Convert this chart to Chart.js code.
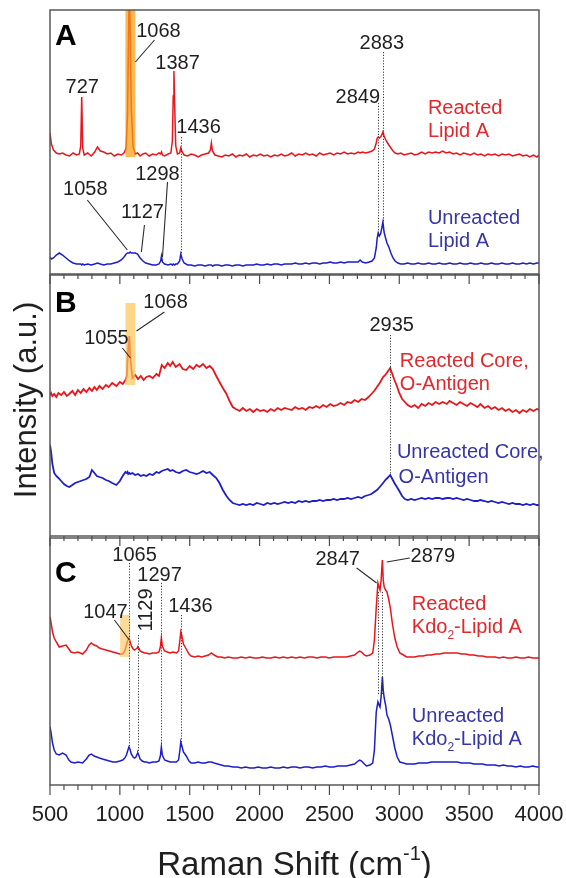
<!DOCTYPE html>
<html>
<head>
<meta charset="utf-8">
<script src="https://cdn.jsdelivr.net/npm/chart.js@4/dist/chart.umd.min.js"></script>
<style>
  html, body { margin: 0; padding: 0; background: #fff; }
  #wrap { position: relative; width: 566px; height: 878px; }
  #wrap canvas { position: absolute; left: 0; top: 0; }
</style>
</head>
<body>
<div id="wrap">
  <canvas id="panelA" width="566" height="878"></canvas>
  <canvas id="panelB" width="566" height="878"></canvas>
  <canvas id="panelC" width="566" height="878"></canvas>
</div>
<script>
// ---------- Panel A: Lipid A ----------
const shiftA = [
  500, 510, 525, 545, 567, 590, 615, 640, 665, 690,
  710, 720, 727, 734, 745, 770, 795, 820, 840, 860,
  885, 910, 935, 960, 985, 1010, 1030, 1045, 1055, 1062,
  1068, 1074, 1082, 1095, 1110, 1127, 1145, 1165, 1185, 1210,
  1235, 1260, 1280, 1292, 1298, 1305, 1320, 1345, 1365, 1376,
  1382, 1387, 1393, 1400, 1412, 1428, 1436, 1446, 1460, 1485,
  1510, 1535, 1560, 1585, 1610, 1635, 1648, 1655, 1663, 1680,
  1705, 1730, 1755, 1780, 1805, 1830, 1855, 1880, 1905, 1930,
  1955, 1980, 2005, 2030, 2055, 2080, 2105, 2130, 2155, 2180,
  2205, 2230, 2255, 2280, 2305, 2330, 2355, 2380, 2405, 2430,
  2455, 2480, 2505, 2530, 2555, 2580, 2605, 2630, 2655, 2680,
  2705, 2720, 2735, 2760, 2785, 2805, 2822, 2835, 2842, 2849,
  2857, 2866, 2875, 2883, 2891, 2900, 2912, 2925, 2940, 2955,
  2970, 2990, 3010, 3035, 3060, 3085, 3110, 3135, 3160, 3185,
  3210, 3235, 3260, 3285, 3310, 3335, 3360, 3385, 3410, 3435,
  3460, 3485, 3510, 3535, 3560, 3585, 3610, 3635, 3660, 3685,
  3710, 3735, 3760, 3785, 3810, 3835, 3860, 3885, 3910, 3935,
  3960, 3985, 4000
];
const reactedA = [
  141, 130, 124, 121, 120, 121, 119, 118, 121, 119,
  120, 128, 177, 126, 119, 121, 118, 122, 127, 123,
  122, 120, 121, 118, 120, 119, 121, 126, 160, 235,
  300, 240, 165, 127, 120, 121, 118, 120, 121, 118,
  120, 119, 121, 120, 122, 119, 118, 120, 121, 133,
  178, 203, 165, 128, 120, 121, 126, 122, 119, 118,
  120, 119, 117, 119, 120, 121, 124, 131, 123, 119,
  118, 117, 119, 118, 120, 117, 119, 118, 120, 117,
  119, 118, 120, 118, 119, 117, 119, 118, 120, 118,
  119, 121, 118, 120, 119, 121, 119, 120, 118, 121,
  119, 120, 121, 119, 121, 120, 122, 120, 121, 120,
  122, 121, 122, 121, 122, 123, 125, 131, 136, 137,
  136, 137, 139, 142, 138, 135, 132, 129, 126, 123,
  121, 120, 121, 119, 120, 121, 119, 120, 122, 120,
  122, 121, 122, 121, 123, 121, 122, 120, 121, 119,
  121, 120, 119, 121, 119, 120, 118, 120, 119, 120,
  118, 120, 119, 120, 118, 119, 120, 118, 119, 117,
  119, 117, 119
];
const unreactedA = [
  17, 15, 16, 19, 21, 19, 16, 13, 11, 10,
  10, 10, 9, 10, 9, 10, 9, 10, 11, 10,
  9, 10, 10, 11, 12, 14, 17, 20, 21, 21,
  21, 22, 21, 21, 21, 20, 16, 13, 11, 10,
  9, 9, 10, 13, 18, 12, 10, 9, 10, 9,
  10, 10, 9, 10, 10, 13, 20, 15, 11, 9,
  9, 8, 9, 9, 8, 9, 9, 9, 8, 9,
  9, 8, 9, 9, 8, 9, 9, 8, 9, 9,
  9, 10, 9, 9, 10, 9, 10, 10, 9, 10,
  10, 10, 11, 10, 10, 11, 10, 11, 11, 10,
  11, 11, 12, 11, 11, 12, 11, 12, 12, 12,
  12, 14, 12, 11, 12, 13, 16, 26, 36, 41,
  38, 40, 46, 52, 42, 37, 31, 27, 21, 16,
  13, 11, 10, 10, 11, 10, 10, 11, 10, 10,
  11, 10, 10, 11, 10, 10, 11, 10, 10, 11,
  10, 10, 11, 10, 10, 11, 10, 10, 11, 10,
  10, 11, 10, 10, 11, 10, 10, 11, 10, 11,
  10, 11, 11
];

// ---------- Panel B: core, O-antigen ----------
const shiftB = [
  500, 508, 517, 530, 545, 560, 580, 600, 620, 638,
  660, 680, 700, 720, 740, 760, 782, 800, 818, 835,
  854, 876, 900, 920, 945, 975, 1000, 1020, 1040, 1050,
  1055, 1060, 1068, 1075, 1090, 1110, 1130, 1150, 1170, 1190,
  1212, 1235, 1262, 1280, 1300, 1320, 1343, 1360, 1378, 1400,
  1427, 1450, 1475, 1500, 1525, 1548, 1570, 1595, 1620, 1643,
  1665, 1690, 1713, 1737, 1763, 1785, 1808, 1830, 1857, 1880,
  1905, 1930, 1955, 1980, 2005, 2030, 2055, 2080, 2105, 2130,
  2155, 2180, 2205, 2230, 2255, 2280, 2305, 2330, 2355, 2380,
  2405, 2430, 2455, 2480, 2505, 2530, 2555, 2580, 2605, 2630,
  2655, 2680, 2705, 2730, 2755, 2780, 2800, 2820, 2840, 2860,
  2884, 2900, 2915, 2935, 2950, 2965, 2983, 3000, 3020, 3040,
  3060, 3085, 3110, 3135, 3160, 3185, 3210, 3235, 3260, 3285,
  3310, 3340, 3360, 3385, 3410, 3435, 3460, 3485, 3510, 3535,
  3560, 3580, 3610, 3635, 3660, 3685, 3710, 3735, 3760, 3785,
  3810, 3835, 3860, 3885, 3910, 3935, 3960, 3985, 4000
];
const reactedB = [
  141, 143, 140, 142, 139, 143, 141, 144, 140, 142,
  145, 141, 146, 143, 147, 144, 148, 145, 149, 146,
  150, 147, 151, 149, 153, 150, 154, 152, 156, 160,
  176, 188, 200, 178, 158, 161, 157, 160, 156, 159,
  160, 158, 162, 160, 171, 168, 173, 170, 174, 169,
  172, 167, 166, 170, 167, 171, 169, 172, 168, 170,
  167, 160, 154, 148, 142, 135, 129, 127, 125, 128,
  125, 127, 124, 127, 125, 126, 124, 127, 125, 128,
  126, 128, 127, 126, 129, 127, 128, 126, 129, 128,
  130, 128, 131, 129, 132, 130, 131, 133, 131, 134,
  133, 136, 134, 137, 136, 139, 142, 145, 149, 153,
  159, 161, 164, 168, 162, 156, 150, 143, 137, 134,
  131, 129, 131, 128, 132, 130, 133, 131, 134, 132,
  134, 132, 135, 133, 131, 134, 132, 130, 133, 131,
  129, 132, 128, 130, 127, 129, 126, 128, 125, 127,
  124, 126, 123, 126, 124, 127, 125, 127, 126
];
const unreactedB = [
  91, 84, 72, 63, 60, 58, 55, 52, 50, 49,
  51, 53, 54, 55, 56, 57, 59, 66, 63, 60,
  59, 58, 56, 55, 53, 51, 55, 60, 64, 63,
  64, 62, 63, 62, 63, 61, 62, 60, 61, 60,
  62, 61, 64, 63, 65, 66, 67, 65, 66, 64,
  63, 65, 66, 64, 63, 62, 63, 65, 63, 64,
  61, 58, 53, 46, 40, 36, 33, 32, 31, 32,
  31, 32, 31, 33, 32, 31, 33, 32, 33, 32,
  33, 34, 33, 34, 33, 35, 34, 35, 34, 35,
  35, 36, 35, 36, 36, 37, 36, 37, 37, 38,
  37, 38, 39, 38, 40, 41, 42, 44, 46, 49,
  53, 56, 58, 61, 57, 53, 49, 45, 40, 37,
  36, 37, 36, 37, 38, 37, 38, 37, 38, 38,
  37, 38, 38, 37, 38, 37, 36, 37, 36, 35,
  35, 36, 35, 34, 35, 34, 33, 34, 33, 32,
  33, 32, 32, 31, 32, 31, 32, 31, 31
];

// ---------- Panel C: Kdo2-Lipid A ----------
const shiftC = [
  500, 508, 518, 530, 545, 566, 590, 615, 635, 650,
  675, 700, 733, 760, 780, 796, 815, 835, 853, 875,
  900, 925, 950, 975, 1000, 1020, 1035, 1047, 1058, 1065,
  1072, 1082, 1095, 1105, 1115, 1124, 1129, 1135, 1145, 1160,
  1175, 1190, 1210, 1235, 1262, 1280, 1290, 1297, 1304, 1320,
  1340, 1360, 1380, 1405, 1420, 1430, 1436, 1442, 1455, 1475,
  1495, 1510, 1535, 1560, 1585, 1610, 1635, 1655, 1675, 1700,
  1725, 1750, 1775, 1810, 1840, 1870, 1900, 1930, 1960, 1990,
  2020, 2050, 2080, 2110, 2143, 2170, 2200, 2230, 2260, 2290,
  2320, 2350, 2380, 2410, 2440, 2470, 2500, 2530, 2560, 2590,
  2622, 2650, 2680, 2705, 2717, 2730, 2750, 2765, 2790, 2810,
  2822, 2835, 2847, 2855, 2862, 2870, 2879, 2885, 2892, 2902,
  2912, 2924, 2936, 2950, 2968, 2985, 3004, 3030, 3052, 3080,
  3110, 3140, 3170, 3200, 3230, 3260, 3290, 3320, 3350, 3385,
  3415, 3445, 3475, 3505, 3535, 3565, 3595, 3625, 3655, 3685,
  3715, 3745, 3775, 3805, 3835, 3865, 3895, 3925, 3955, 3985,
  4000
];
const reactedC = [
  168, 162, 153, 147, 143, 138, 139, 140, 136, 133,
  132, 133, 131, 135, 140, 142, 140, 139, 137, 136,
  135, 134, 133, 132, 131, 131, 134, 140, 145, 147,
  144, 139, 136, 135, 136, 137, 138, 137, 134, 133,
  132, 132, 131, 132, 132, 133, 138, 147, 139, 134,
  133, 132, 133, 132, 134, 145, 153, 150, 141, 136,
  131, 129, 128, 129, 128, 129, 130, 132, 130, 128,
  128, 127, 128, 127, 127, 128, 127, 128, 127, 127,
  128, 127, 127, 128, 127, 128, 127, 128, 127, 128,
  127, 128, 128, 127, 128, 128, 127, 128, 128, 128,
  128, 129, 130, 133, 134, 133, 130, 129, 130, 132,
  145, 177, 202, 198, 195, 205, 225, 205, 198, 195,
  193, 186, 177, 162, 147, 138, 132, 130, 128, 128,
  128, 129, 129, 130, 130, 131, 131, 132, 132, 132,
  132, 131, 131, 130, 130, 129, 129, 128, 128, 128,
  127, 128, 127, 127, 128, 127, 127, 128, 127, 127,
  127
];
const unreactedC = [
  58, 52, 42, 35, 31, 30, 32, 30, 25, 23,
  22, 23, 22, 26, 30, 31, 29, 28, 27, 26,
  25, 24, 23, 23, 24, 25, 27, 30, 35, 38,
  36, 31, 28, 27, 28, 31, 32, 30, 26, 24,
  23, 23, 22, 23, 23, 24, 29, 38, 30, 25,
  24, 23, 23, 23, 25, 35, 43, 40, 33, 29,
  24, 22, 22, 23, 22, 22, 23, 23, 22, 21,
  20, 19, 19, 18, 18, 17, 18, 17, 17, 18,
  17, 17, 18, 17, 17, 18, 17, 18, 18, 17,
  18, 18, 17, 18, 18, 19, 18, 18, 19, 19,
  19, 20, 21, 24, 25, 24, 21, 19, 20, 22,
  35, 73, 83, 80, 78, 88, 108, 95, 87, 80,
  70, 66, 60, 50, 37, 28, 23, 22, 21, 21,
  21, 22, 22, 22, 23, 23, 23, 23, 23, 23,
  23, 22, 22, 22, 21, 21, 21, 20, 20, 20,
  19, 20, 19, 19, 18, 19, 18, 18, 19, 18,
  18
];

// ---------- Styling ----------
const FONT = "'Liberation Sans', Arial, Helvetica, sans-serif";
const RED = '#e8161c';
const BLUE = '#1d1dc9';
const RED_TEXT = '#e2282c';
const BLUE_TEXT = '#3636a8';
const INK = '#1f1f1f';
const FRAME = '#4d4d4d';

function series(xs, ys) {
  return xs.map((x, i) => ({ x: x, y: ys[i] }));
}

// Text with sub/superscript glyphs drawn as smaller raised/lowered runs
function richText(ctx, str, x, y, size, align, color) {
  const runs = [];
  for (const ch of str) {
    let kind = 'n', t = ch;
    if (ch === '₂') { kind = 'sub'; t = '2'; }
    else if (ch === '⁻') { kind = 'sup'; t = '-'; }
    else if (ch === '¹') { kind = 'sup'; t = '1'; }
    const last = runs[runs.length - 1];
    if (last && last.kind === kind) last.text += t;
    else runs.push({ kind: kind, text: t });
  }
  let total = 0;
  for (const r of runs) {
    const s = r.kind === 'n' ? size : Math.round(size * 0.62);
    ctx.font = s + 'px ' + FONT;
    r.size = s;
    r.w = ctx.measureText(r.text).width;
    r.dy = r.kind === 'sub' ? size * 0.28 : (r.kind === 'sup' ? -size * 0.45 : 0);
    total += r.w;
  }
  let cx = align === 'center' ? x - total / 2 : x;
  ctx.fillStyle = color;
  ctx.textAlign = 'left';
  ctx.textBaseline = 'alphabetic';
  for (const r of runs) {
    ctx.font = r.size + 'px ' + FONT;
    ctx.fillText(r.text, cx, y + r.dy);
    cx += r.w;
  }
}

// Frame, ticks, highlight bands and peak annotations of one panel
const panelDecor = {
  id: 'panelDecor',
  afterDatasetsDraw(chart, args, o) {
    const { ctx, chartArea: a, scales: { x, y } } = chart;
    ctx.save();
    ctx.beginPath();
    ctx.rect(a.left, a.top, a.right - a.left, a.bottom - a.top);
    ctx.clip();
    for (const b of o.bands) {
      const x0 = x.getPixelForValue(b.from), x1 = x.getPixelForValue(b.to);
      const y0 = y.getPixelForValue(b.top), y1 = y.getPixelForValue(b.bottom);
      ctx.fillStyle = b.color;
      ctx.fillRect(x0, y0, x1 - x0, y1 - y0);
    }
    ctx.restore();
  },
  afterDraw(chart, args, o) {
    const { ctx, chartArea: a, scales: { x, y } } = chart;
    ctx.save();

    // panel frame
    ctx.strokeStyle = FRAME;
    ctx.lineWidth = 1.4;
    ctx.strokeRect(a.left, a.top, a.right - a.left, a.bottom - a.top);

    // major / minor tick marks below the bottom edge
    ctx.lineWidth = 1.2;
    ctx.beginPath();
    for (const t of x.ticks) {
      const px = x.getPixelForValue(t.value);
      const len = t.value % 500 === 0 ? 10 : 5;
      ctx.moveTo(px, a.bottom);
      ctx.lineTo(px, a.bottom + len);
    }
    ctx.stroke();

    // dotted peak markers
    ctx.strokeStyle = '#3a3a3a';
    ctx.lineWidth = 1;
    ctx.setLineDash([1.2, 1.6]);
    ctx.beginPath();
    for (const d of o.dotted) {
      const px = Math.round(x.getPixelForValue(d.at)) + 0.5;
      ctx.moveTo(px, y.getPixelForValue(d.from));
      ctx.lineTo(px, y.getPixelForValue(d.to));
    }
    ctx.stroke();
    ctx.setLineDash([]);

    // leader lines
    ctx.strokeStyle = '#2b2b2b';
    ctx.lineWidth = 1.1;
    ctx.beginPath();
    for (const l of o.leaders) {
      ctx.moveTo(x.getPixelForValue(l.x1), y.getPixelForValue(l.y1));
      ctx.lineTo(x.getPixelForValue(l.x2), y.getPixelForValue(l.y2));
    }
    ctx.stroke();

    // peak labels
    ctx.fillStyle = INK;
    ctx.font = '20px ' + FONT;
    ctx.textAlign = 'center';
    ctx.textBaseline = 'middle';
    for (const l of o.labels) {
      const px = x.getPixelForValue(l.x), py = y.getPixelForValue(l.y);
      if (l.rotate) {
        ctx.save();
        ctx.translate(px, py);
        ctx.rotate(-Math.PI / 2);
        ctx.fillText(l.text, 0, 0);
        ctx.restore();
      } else {
        ctx.fillText(l.text, px, py);
      }
    }

    // sample names
    for (const g of o.names) {
      richText(ctx, g.text, x.getPixelForValue(g.x), y.getPixelForValue(g.y), 20, 'left',
               g.color === 'red' ? RED_TEXT : BLUE_TEXT);
    }

    // panel letter
    ctx.fillStyle = '#000';
    ctx.font = 'bold 30px ' + FONT;
    ctx.textAlign = 'left';
    ctx.textBaseline = 'alphabetic';
    ctx.fillText(o.letter, a.left + 5, a.top + o.letterDrop);

    // shared axis titles
    if (o.yTitle) {
      ctx.save();
      ctx.translate(36, 400);
      ctx.rotate(-Math.PI / 2);
      ctx.fillStyle = INK;
      ctx.font = '31px ' + FONT;
      ctx.textAlign = 'center';
      ctx.textBaseline = 'alphabetic';
      ctx.fillText(o.yTitle, 0, 0);
      ctx.restore();
    }
    if (o.xTitle) {
      richText(ctx, o.xTitle, (a.left + a.right) / 2, 875, 33, 'center', INK);
    }
    ctx.restore();
  }
};

function makePanel(id, xs, red, blue, yMax, pad, axisHeight, showLabels, lineWidth, decor) {
  return new Chart(document.getElementById(id), {
    type: 'line',
    data: {
      datasets: [
        { label: 'Reacted', data: series(xs, red), borderColor: RED, borderWidth: lineWidth,
          pointRadius: 0, tension: 0, fill: false },
        { label: 'Unreacted', data: series(xs, blue), borderColor: BLUE, borderWidth: lineWidth,
          pointRadius: 0, tension: 0, fill: false }
      ]
    },
    options: {
      responsive: false,
      animation: false,
      devicePixelRatio: 1,
      events: [],
      layout: { padding: pad },
      plugins: {
        legend: { display: false },
        tooltip: { enabled: false },
        panelDecor: decor
      },
      scales: {
        x: {
          type: 'linear', min: 500, max: 4000,
          border: { display: false },
          grid: { display: true, drawOnChartArea: false, tickLength: 10, tickColor: 'rgba(0,0,0,0)' },
          ticks: {
            display: showLabels, stepSize: 100, autoSkip: false, maxRotation: 0, minRotation: 0,
            padding: 7, color: INK, font: { family: FONT, size: 22 },
            callback: v => (v % 500 === 0 ? String(v) : '')
          },
          // same plot width in every panel: no extra room reserved for edge labels
          afterFit: s => { s.height = axisHeight; s.paddingLeft = 0; s.paddingRight = 0; }
        },
        y: { display: false, min: 0, max: yMax }
      }
    },
    plugins: [panelDecor]
  });
}

makePanel('panelA', shiftA, reactedA, unreactedA, 264,
  { top: 10, left: 50, right: 27, bottom: 594 }, 10, false, 1.5, {
    letter: 'A', letterDrop: 35,
    bands: [{ from: 1040, to: 1111, bottom: 117, top: 264, color: 'rgba(247,158,18,0.72)' }],
    dotted: [
      { at: 1436, from: 137, to: 21 },
      { at: 2883, from: 222, to: 52 },
      { at: 2849, from: 171, to: 41 }
    ],
    leaders: [
      { x1: 1248, y1: 234, x2: 1111, y2: 212 },
      { x1: 767, y1: 74, x2: 1054, y2: 24 },
      { x1: 1176, y1: 49, x2: 1154, y2: 22 },
      { x1: 1341, y1: 92, x2: 1305, y2: 17 }
    ],
    labels: [
      { text: '727', x: 731, y: 187 },
      { text: '1068', x: 1276, y: 243 },
      { text: '1387', x: 1413, y: 211 },
      { text: '1436', x: 1563, y: 147 },
      { text: '1058', x: 753, y: 85 },
      { text: '1127', x: 1162, y: 62 },
      { text: '1298', x: 1269, y: 100 },
      { text: '2883', x: 2875, y: 231 },
      { text: '2849', x: 2703, y: 177 }
    ],
    names: [
      { text: 'Reacted', x: 3205, y: 160, color: 'red' },
      { text: 'Lipid A', x: 3205, y: 137, color: 'red' },
      { text: 'Unreacted', x: 3205, y: 50, color: 'blue' },
      { text: 'Lipid A', x: 3205, y: 27, color: 'blue' }
    ]
  });

makePanel('panelB', shiftB, reactedB, unreactedB, 261,
  { top: 275, left: 50, right: 27, bottom: 332 }, 10, false, 1.8, {
    letter: 'B', letterDrop: 37,
    yTitle: 'Intensity (a.u.)',
    bands: [{ from: 1040, to: 1111, bottom: 151, top: 233, color: 'rgba(250,198,88,0.7)' }],
    dotted: [{ at: 2935, from: 201, to: 61 }],
    leaders: [
      { x1: 1018, y1: 188, x2: 1076, y2: 178 },
      { x1: 1319, y1: 224, x2: 1119, y2: 205 }
    ],
    labels: [
      { text: '1055', x: 904, y: 198 },
      { text: '1068', x: 1327, y: 234 },
      { text: '2935', x: 2946, y: 211 }
    ],
    names: [
      { text: 'Reacted Core,', x: 3004, y: 169, color: 'red' },
      { text: 'O-Antigen', x: 3004, y: 146, color: 'red' },
      { text: 'Unreacted Core,', x: 2983, y: 78, color: 'blue' },
      { text: 'O-Antigen', x: 2995, y: 53, color: 'blue' }
    ]
  });

makePanel('panelC', shiftC, reactedC, unreactedC, 247,
  { top: 538, left: 50, right: 27, bottom: 0 }, 93, true, 1.5, {
    letter: 'C', letterDrop: 44,
    xTitle: 'Raman Shift (cm⁻¹)',
    bands: [{ from: 1002, to: 1073, bottom: 128, top: 170, color: 'rgba(250,198,100,0.65)' }],
    dotted: [
      { at: 1065, from: 222, to: 38 },
      { at: 1297, from: 202, to: 38 },
      { at: 1129, from: 150, to: 33 },
      { at: 1436, from: 170, to: 43 },
      { at: 2847, from: 193, to: 90 },
      { at: 2879, from: 193, to: 90 }
    ],
    leaders: [
      { x1: 961, y1: 165, x2: 1068, y2: 145 },
      { x1: 2695, y1: 217, x2: 2838, y2: 202 },
      { x1: 3075, y1: 227, x2: 2910, y2: 223 }
    ],
    labels: [
      { text: '1065', x: 1105, y: 230 },
      { text: '1297', x: 1284, y: 210 },
      { text: '1129', x: 1191, y: 175, rotate: true },
      { text: '1436', x: 1505, y: 179 },
      { text: '1047', x: 897, y: 173 },
      { text: '2847', x: 2559, y: 226 },
      { text: '2879', x: 3240, y: 229 }
    ],
    names: [
      { text: 'Reacted', x: 3090, y: 175, color: 'red' },
      { text: 'Kdo₂-Lipid A', x: 3090, y: 152, color: 'red' },
      { text: 'Unreacted', x: 3090, y: 63, color: 'blue' },
      { text: 'Kdo₂-Lipid A', x: 3090, y: 40, color: 'blue' }
    ]
  });
</script>
</body>
</html>
